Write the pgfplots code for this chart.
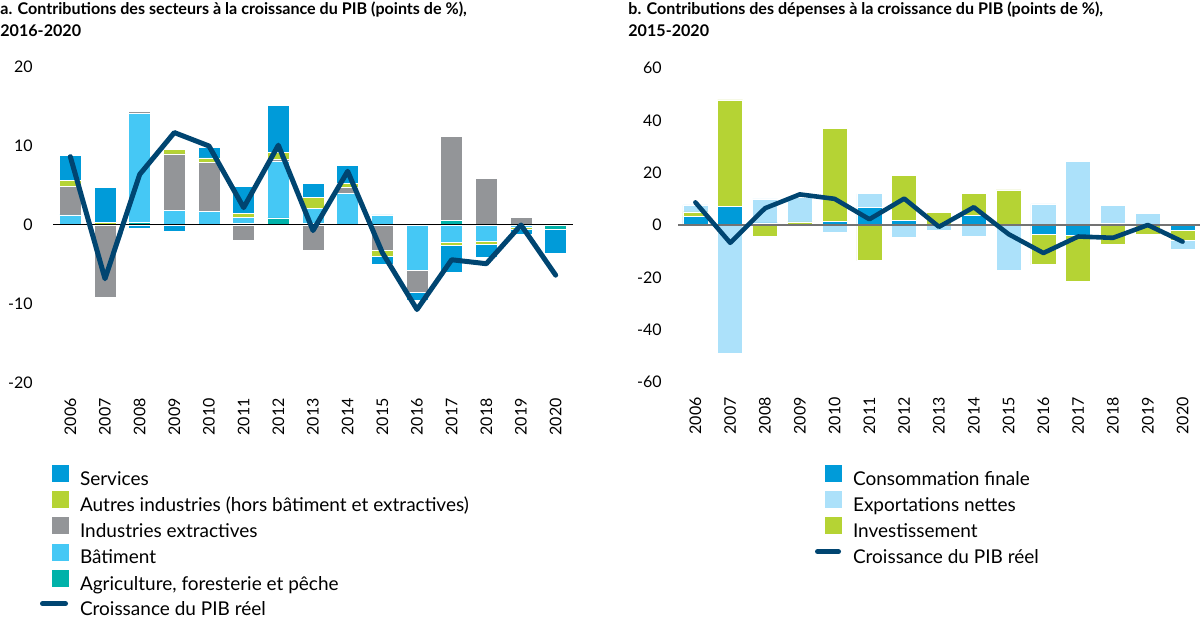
\documentclass[border=0pt]{standalone}
\usepackage{fontspec}
\setmainfont{Lato}
\usepackage{pgfplots}
\usepackage{pgfplotstable}
\pgfplotsset{compat=1.18}

\definecolor{ser}{HTML}{009BD9}
\definecolor{aut}{HTML}{B5D334}
\definecolor{ext}{HTML}{939598}
\definecolor{bat}{HTML}{45C8F5}
\definecolor{agri}{HTML}{00B2A9}
\definecolor{nx}{HTML}{ACE1FA}
\definecolor{gdp}{HTML}{004571}

\pgfplotstableread{
x agriP batP extP autP serP agriN batN extN autN serN gdp
0 0 1.27 3.63 0.78 3.09 0 0 0 0 0 8.65
1 0 0 0 0.30 4.45 0 0 -9.13 0 0 -6.8
2 0.30 13.8 0.25 0.17 0 0 0 0 0 -0.45 6.4
3 0 1.8 7.2 0.6 0 0 0 0 0 -0.75 11.7
4 0 1.7 6.2 0.6 1.3 0 0 0 0 0 10.0
5 0.2 0.8 0 0.5 3.4 0 0 -2.0 0 0 2.2
6 0.9 7.2 0.2 0.9 5.9 0 0 0 0 0 10.1
7 0.2 1.95 0 1.3 1.85 0 0 -3.2 0 0 -0.7
8 0 4.0 0.75 0.5 2.25 0 0 0 0 0 6.8
9 0 1.27 0 0 0 0 0 -3.2 -0.8 -0.95 -3.5
10 0 0 0 0.1 0 0 -5.76 -2.7 0 -1.05 -10.7
11 0.55 0 10.65 0 0 0 -2.16 0 -0.38 -3.4 -4.4
12 0 0 5.9 0 0 0 -2.03 0 -0.43 -1.57 -4.9
13 0 0 0.93 0 0 0 -0.3 0 -0.3 -0.6 0.0
14 0 0 0 0 0 -0.5 0 0 0 -3.1 -6.35
}\secteurs

\pgfplotstableread{
x consP invP nxP consN invN nxN
0 3.2 1.8 2.7 0 0 0
1 7.1 40.7 0 0 0 -49.2
2 0.8 0 9.2 0 -4.5 0
3 0 1.2 9.3 0 0 0
4 1.5 35.5 0 0 0 -2.8
5 6.7 0 5.3 0 -13.6 0
6 1.9 17.0 0 0 0 -4.6
7 0 4.9 0 0 0 -1.9
8 3.6 8.4 0 0 0 -4.4
9 0 13.4 0 0 0 -17.5
10 0 0 8.1 -3.5 -11.7 0
11 0 0 24.4 -4.0 -17.6 0
12 0.5 0 7.0 0 -7.5 0
13 0 0 4.5 0 -3.5 0
14 0 0 0 -1.9 -4.0 -3.4
}\depenses

\pgfplotsset{
  base/.style={scale only axis, anchor=south west, xmin=-0.5, xmax=14.5,
    axis line style={draw=none}, major tick length=0pt, clip=false},
  labels/.style={xtick={0,...,14},
    xticklabels={2006,2007,2008,2009,2010,2011,2012,2013,2014,2015,2016,2017,2018,2019,2020},
    tick label style={font=\fontsize{8bp}{9.5bp}\selectfont, inner sep=0pt},
    xticklabel style={rotate=90, anchor=east},
    xticklabel shift=7.5bp},
  nolabels/.style={xtick=\empty, ytick=\empty},
  leftpos/.style={at={(26.5bp,118bp)}, width=260bp, height=158bp, ymin=-20, ymax=20},
  rightpos/.style={at={(339bp,118.5bp)}, width=261bp, height=157bp, ymin=-60, ymax=60},
  seg/.style={fill=#1, draw=white, line width=0.3bp, forget plot},
  leg/.style={legend style={draw=none, fill=none, inner sep=0pt, outer sep=0pt,
      row sep=0.9bp, column sep=0pt, font=\fontsize{9.5bp}{11bp}\selectfont,
      nodes={inner sep=0pt, text height=7.1bp, text depth=2bp}},
    legend cell align=left},
}
\newcommand\legsq[2]{\addlegendimage{legend image code/.code={\fill[#1] (#2,-0.58bp) rectangle ({#2+8bp},7.42bp); \path[draw=none,fill=none] (0bp,0bp) -- ({#2+14bp},0bp);}}}
\newcommand\legline[1]{\addlegendimage{legend image code/.code={\draw[gdp, line width=2.5bp, line cap=round] (1.25bp,3.42bp) -- ({#1+6.75bp},3.42bp); \path[draw=none,fill=none] (0bp,-0.58bp) rectangle ({#1+14bp},7.42bp);}}}

\begin{document}
\begin{tikzpicture}
\useasboundingbox (0,0) rectangle (600bp,309.5bp);

\node[anchor=base west, inner sep=0pt, font=\fontsize{8.05bp}{11bp}\selectfont\bfseries] at (0bp,302bp) {a. Contributions des secteurs à la croissance du PIB (points de \%),};
\node[anchor=base west, inner sep=0pt, font=\fontsize{8.05bp}{11bp}\selectfont\bfseries] at (0bp,291bp) {2016-2020};
\node[anchor=base west, inner sep=0pt, font=\fontsize{8.05bp}{11bp}\selectfont\bfseries] at (314bp,302bp) {b. Contributions des dépenses à la croissance du PIB (points de \%),};
\node[anchor=base west, inner sep=0pt, font=\fontsize{8.05bp}{11bp}\selectfont\bfseries] at (314bp,291bp) {2015-2020};

% ---------- Panel a ----------
\begin{axis}[base, leftpos, labels, ybar stacked, bar width=11bp,
  ytick={-20,-10,0,10,20}, yticklabels={-20,-10,0,10,20}, yticklabel shift=10bp,
  leg, legend style={at={(-0.025,-0.260)}, anchor=north west}]
\addplot[seg=agri] table[x=x,y=agriP]{\secteurs};
\addplot[seg=bat] table[x=x,y=batP]{\secteurs};
\addplot[seg=ext] table[x=x,y=extP]{\secteurs};
\addplot[seg=aut] table[x=x,y=autP]{\secteurs};
\addplot[seg=ser] table[x=x,y=serP]{\secteurs};
\legsq{ser}{6bp}\addlegendentry{Services}
\legsq{aut}{6bp}\addlegendentry{Autres industries (hors bâtiment et extractives)}
\legsq{ext}{6bp}\addlegendentry{Industries extractives}
\legsq{bat}{6bp}\addlegendentry{Bâtiment}
\legsq{agri}{6bp}\addlegendentry{Agriculture, foresterie et pêche}
\legline{6bp}\addlegendentry{Croissance du PIB réel}
\end{axis}
\begin{axis}[base, leftpos, nolabels, ybar stacked, bar width=11bp]
\addplot[seg=agri] table[x=x,y=agriN]{\secteurs};
\addplot[seg=bat] table[x=x,y=batN]{\secteurs};
\addplot[seg=ext] table[x=x,y=extN]{\secteurs};
\addplot[seg=aut] table[x=x,y=autN]{\secteurs};
\addplot[seg=ser] table[x=x,y=serN]{\secteurs};
\end{axis}
\begin{axis}[base, leftpos, nolabels]
\addplot[black, line width=0.5bp, forget plot] coordinates {(-0.5,0) (14.5,0)};
\addplot[gdp, line width=2.5bp, line join=round, line cap=round, forget plot] table[x=x,y=gdp]{\secteurs};
\end{axis}

% ---------- Panel b ----------
\begin{axis}[base, rightpos, labels, ybar stacked, bar width=12.5bp,
  ytick={-60,-40,...,60}, yticklabels={-60,-40,-20,0,20,40,60}, yticklabel shift=8bp,
  leg, legend style={at={(0.2625,-0.265)}, anchor=north west}]
\addplot[seg=ser] table[x=x,y=consP]{\depenses};
\addplot[seg=aut] table[x=x,y=invP]{\depenses};
\addplot[seg=nx] table[x=x,y=nxP]{\depenses};
\legsq{ser}{5bp}\addlegendentry{Consommation finale}
\legsq{nx}{5bp}\addlegendentry{Exportations nettes}
\legsq{aut}{5bp}\addlegendentry{Investissement}
\legline{5bp}\addlegendentry{Croissance du PIB réel}
\end{axis}
\begin{axis}[base, rightpos, nolabels, ybar stacked, bar width=12.5bp]
\addplot[seg=ser] table[x=x,y=consN]{\depenses};
\addplot[seg=aut] table[x=x,y=invN]{\depenses};
\addplot[seg=nx] table[x=x,y=nxN]{\depenses};
\end{axis}
\begin{axis}[base, rightpos, nolabels]
\addplot[black!55, line width=1bp, forget plot] coordinates {(-0.5,0) (14.5,0)};
\addplot[gdp, line width=2.3bp, line join=round, line cap=round, forget plot] table[x=x,y=gdp]{\secteurs};
\end{axis}
\end{tikzpicture}
\end{document}
